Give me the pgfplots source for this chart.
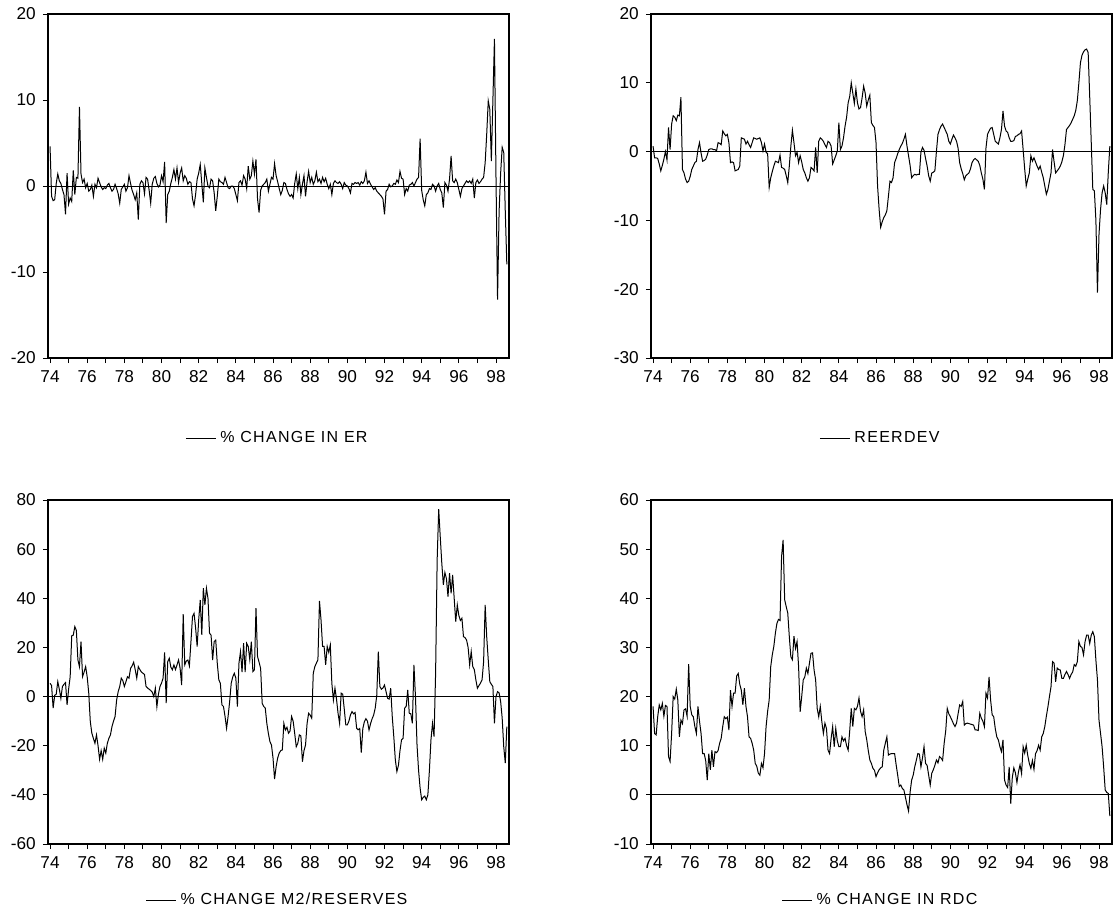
\documentclass[border=0pt]{standalone}
\usepackage{fontspec}
\setmainfont{Liberation Sans}
\usepackage{pgfplots}
\pgfplotsset{compat=1.18}
\usepackage{pgfplotstable}

% monthly data, 1974M1 ... 1998M8 (one row per year)
\pgfplotstableread[row sep=\\]{
v\\
4.6\\ -1.2\\ -1.7\\ -1.6\\ 0.3\\ 1.4\\ 0.6\\ 0.3\\ -0.4\\ -1.0\\ -3.3\\ 1.5\\
-2.1\\ -1.4\\ -1.8\\ 1.8\\ -1.0\\ 1.0\\ 0.9\\ 9.2\\ 1.4\\ 0.4\\ 0.8\\ -0.2\\
0.3\\ -0.6\\ -0.4\\ 0.1\\ -1.2\\ 0.2\\ -0.2\\ 0.9\\ 0.4\\ -0.1\\ -0.4\\ -0.2\\
-0.3\\ 0.1\\ 0.3\\ -0.2\\ -0.6\\ -0.4\\ 0.2\\ -0.3\\ -0.9\\ -2.0\\ -0.4\\ -0.1\\
0.2\\ -0.6\\ -0.2\\ 1.2\\ 0.3\\ -0.5\\ -1.0\\ -1.6\\ -0.8\\ -3.9\\ 0.2\\ 0.6\\
0.4\\ -0.9\\ 1.0\\ 0.8\\ -0.5\\ -2.0\\ 0.2\\ 0.9\\ 1.1\\ 0.3\\ -0.1\\ 0.1\\
1.2\\ 0.5\\ 2.8\\ -4.3\\ -1.0\\ -0.6\\ 0.3\\ 1.0\\ 1.9\\ 0.8\\ 2.1\\ 0.4\\
1.5\\ 2.1\\ 0.6\\ 1.2\\ 0.9\\ 0.2\\ 0.5\\ 0.4\\ -1.5\\ -2.3\\ -1.0\\ 0.8\\
1.5\\ 2.5\\ 0.3\\ -1.9\\ 2.1\\ 1.0\\ 0.0\\ -0.2\\ 0.8\\ 0.6\\ -0.8\\ -2.9\\
-1.2\\ 0.8\\ 0.5\\ 0.4\\ 0.2\\ 1.0\\ 0.4\\ -0.2\\ -0.3\\ 0.0\\ 0.0\\ -0.3\\
-1.0\\ -1.7\\ 0.4\\ 0.6\\ 0.1\\ 1.2\\ 0.8\\ -0.3\\ 2.3\\ 0.8\\ 1.2\\ 2.9\\
1.4\\ 3.1\\ -1.5\\ -3.1\\ -0.5\\ 0.0\\ 0.2\\ 0.4\\ 0.8\\ -0.6\\ 0.2\\ 1.0\\
0.8\\ 2.6\\ 1.2\\ 0.5\\ -0.3\\ -1.0\\ -0.5\\ 0.4\\ 0.3\\ -0.4\\ -0.9\\ -1.2\\
-1.0\\ -1.4\\ 0.3\\ 1.4\\ -0.3\\ 1.0\\ -1.0\\ 0.2\\ 1.2\\ -1.2\\ 0.5\\ 1.7\\
0.4\\ 1.0\\ 0.2\\ 0.6\\ 1.6\\ 0.5\\ 0.8\\ 0.3\\ 1.0\\ 0.5\\ 0.9\\ 0.2\\
-0.3\\ 0.2\\ -1.0\\ 0.3\\ 0.6\\ 0.4\\ 0.3\\ 0.5\\ 0.2\\ -0.3\\ 0.4\\ 0.1\\
0.0\\ -0.3\\ -0.8\\ 0.3\\ 0.2\\ 0.4\\ 0.3\\ 0.4\\ 0.1\\ 0.5\\ 0.3\\ 0.6\\
1.6\\ 0.3\\ 0.6\\ 0.2\\ -0.1\\ -0.4\\ -0.2\\ -0.6\\ -0.8\\ -1.0\\ -1.2\\ -1.5\\
-3.3\\ -0.6\\ -0.4\\ 0.2\\ -0.1\\ 0.0\\ 0.3\\ 0.2\\ 0.7\\ 0.4\\ 1.7\\ 0.9\\
0.8\\ -1.0\\ -0.3\\ -0.6\\ 0.1\\ 0.2\\ 0.4\\ 0.0\\ 0.4\\ 0.8\\ 1.0\\ 5.5\\
-0.5\\ -1.6\\ -2.3\\ -1.0\\ -0.8\\ -0.3\\ -0.4\\ 0.2\\ 0.0\\ -0.6\\ 0.0\\ 0.3\\
-0.4\\ -0.8\\ -2.5\\ 0.4\\ 0.1\\ -0.6\\ 0.8\\ 3.5\\ 0.6\\ 0.4\\ 0.8\\ 0.4\\
-0.4\\ -1.2\\ -0.3\\ 0.0\\ 0.3\\ 0.6\\ 0.4\\ 0.6\\ 0.3\\ 0.8\\ -1.4\\ 0.4\\
0.7\\ 0.3\\ 0.5\\ 0.8\\ 1.0\\ 2.7\\ 6.0\\ 9.9\\ 8.9\\ 2.9\\ 10.0\\ 17.1\\
1.0\\ -13.2\\ -3.0\\ 1.5\\ 4.5\\ 3.9\\ -3.0\\ -9.1\\
}\tER

\pgfplotstableread[row sep=\\]{
v\\
0.8\\ -0.9\\ -0.9\\ -1.0\\ -1.8\\ -2.8\\ -2.0\\ -1.1\\ 0.0\\ -1.2\\ 3.5\\ 0.3\\
4.0\\ 5.2\\ 5.0\\ 4.5\\ 5.3\\ 5.2\\ 7.9\\ -2.6\\ -3.1\\ -4.0\\ -4.5\\ -4.3\\
-3.6\\ -2.6\\ -2.1\\ -1.6\\ -1.4\\ 0.3\\ 1.3\\ -0.2\\ -1.4\\ -1.3\\ -1.1\\ -0.5\\
0.3\\ 0.4\\ 0.4\\ 0.3\\ 0.3\\ 0.1\\ 1.3\\ 1.2\\ 1.0\\ 3.0\\ 2.6\\ 2.3\\
2.5\\ 1.3\\ -1.6\\ -1.5\\ -1.6\\ -2.8\\ -2.7\\ -2.6\\ -2.1\\ 2.0\\ 1.9\\ 1.8\\
1.1\\ 1.5\\ 1.0\\ 0.6\\ 1.3\\ 2.0\\ 1.9\\ 1.8\\ 1.9\\ 2.0\\ 1.3\\ 0.1\\
1.1\\ -0.1\\ -0.3\\ -5.2\\ -3.8\\ -2.9\\ -2.1\\ -1.4\\ -1.5\\ -1.6\\ -0.5\\ -2.3\\
-2.4\\ -2.6\\ -3.5\\ -4.5\\ -2.1\\ 0.8\\ 3.1\\ 1.3\\ -0.6\\ -0.1\\ -1.6\\ -0.6\\
-1.5\\ -2.6\\ -3.1\\ -3.8\\ -4.3\\ -3.8\\ -2.3\\ -2.5\\ -2.8\\ 0.6\\ -3.1\\ 1.5\\
2.0\\ 1.8\\ 1.5\\ 1.0\\ 0.6\\ 1.5\\ 1.3\\ 0.8\\ -1.8\\ -1.2\\ -0.6\\ 0.1\\
4.2\\ 0.3\\ 0.8\\ 2.0\\ 3.7\\ 5.0\\ 7.1\\ 8.0\\ 10.0\\ 8.5\\ 7.0\\ 9.1\\
7.1\\ 6.2\\ 6.4\\ 7.8\\ 9.5\\ 8.5\\ 6.6\\ 7.5\\ 8.2\\ 4.2\\ 3.8\\ 3.5\\
1.3\\ -5.0\\ -8.4\\ -11.0\\ -10.2\\ -9.6\\ -9.2\\ -8.6\\ -6.5\\ -4.3\\ -4.5\\ -3.8\\
-1.6\\ -1.0\\ -0.3\\ 0.3\\ 0.8\\ 1.2\\ 1.8\\ 2.5\\ 0.8\\ -0.6\\ -2.0\\ -3.8\\
-3.5\\ -3.3\\ -3.4\\ -3.3\\ -3.3\\ -0.1\\ 0.6\\ 0.2\\ -1.0\\ -2.1\\ -3.5\\ -4.3\\
-3.1\\ -3.0\\ -2.8\\ 0.0\\ 2.5\\ 3.2\\ 3.7\\ 4.0\\ 3.5\\ 3.0\\ 2.5\\ 1.5\\
1.1\\ 1.8\\ 2.4\\ 2.0\\ 1.5\\ 0.5\\ -1.6\\ -2.5\\ -3.2\\ -4.1\\ -3.5\\ -3.3\\
-3.1\\ -2.5\\ -1.6\\ -1.2\\ -1.0\\ -1.2\\ -1.4\\ -2.0\\ -3.1\\ -4.0\\ -5.5\\ 0.5\\
2.5\\ 3.0\\ 3.4\\ 3.5\\ 2.5\\ 1.5\\ 1.3\\ 1.1\\ 2.0\\ 3.2\\ 5.9\\ 3.7\\
3.0\\ 2.8\\ 2.0\\ 1.5\\ 1.5\\ 1.6\\ 2.2\\ 2.3\\ 2.5\\ 2.6\\ 3.0\\ 0.3\\
-2.5\\ -5.0\\ -4.0\\ -3.1\\ -0.6\\ -1.4\\ -0.9\\ -1.5\\ -2.1\\ -2.6\\ -2.1\\ -3.0\\
-3.8\\ -5.0\\ -6.2\\ -5.5\\ -4.3\\ -3.1\\ 0.3\\ -1.5\\ -3.1\\ -2.8\\ -2.5\\ -2.1\\
-1.5\\ -0.6\\ 1.0\\ 3.2\\ 3.5\\ 3.8\\ 4.2\\ 4.7\\ 5.2\\ 6.0\\ 7.4\\ 10.0\\
12.9\\ 14.0\\ 14.5\\ 14.8\\ 14.9\\ 14.4\\ 8.0\\ 1.3\\ -5.5\\ -5.7\\ -10.0\\ -20.5\\
-12.0\\ -8.4\\ -6.0\\ -5.0\\ -6.0\\ -7.7\\ -3.0\\ 0.8\\
}\tREER

\pgfplotstableread[row sep=\\]{
v\\
5.4\\ 4.5\\ -4.7\\ 0.5\\ 1.0\\ 6.1\\ 3.0\\ -0.7\\ 4.1\\ 5.0\\ 5.7\\ -3.4\\
3.0\\ 8.1\\ 24.7\\ 25.0\\ 28.5\\ 26.9\\ 14.9\\ 12.2\\ 22.4\\ 8.1\\ 10.0\\ 12.2\\
8.0\\ 1.4\\ -10.2\\ -14.9\\ -17.0\\ -19.0\\ -15.6\\ -20.0\\ -25.5\\ -22.0\\ -25.5\\ -21.0\\
-23.0\\ -19.0\\ -17.0\\ -15.6\\ -12.2\\ -10.0\\ -8.1\\ -1.4\\ 2.0\\ 4.1\\ 7.5\\ 6.5\\
4.1\\ 6.0\\ 8.1\\ 7.5\\ 11.5\\ 12.5\\ 14.0\\ 11.0\\ 7.5\\ 12.2\\ 11.0\\ 10.0\\
9.5\\ 9.0\\ 4.1\\ 3.5\\ 3.0\\ 2.5\\ 1.8\\ 0.0\\ 3.4\\ -4.1\\ 1.0\\ 4.1\\
5.5\\ 7.5\\ 18.0\\ -2.7\\ 14.2\\ 15.6\\ 12.0\\ 10.9\\ 12.9\\ 11.0\\ 12.9\\ 14.9\\
11.5\\ 4.7\\ 33.6\\ 12.9\\ 14.5\\ 14.9\\ 12.5\\ 22.4\\ 32.6\\ 33.9\\ 28.0\\ 20.4\\
31.2\\ 39.3\\ 25.1\\ 44.1\\ 37.3\\ 44.1\\ 40.0\\ 25.8\\ 25.0\\ 14.9\\ 22.4\\ 23.0\\
13.6\\ 6.8\\ 5.4\\ -3.4\\ -4.0\\ -8.0\\ -12.9\\ -8.0\\ -2.0\\ 5.4\\ 8.0\\ 9.5\\
7.5\\ -4.1\\ 13.6\\ 18.3\\ 10.0\\ 21.7\\ 10.0\\ 21.7\\ 20.4\\ 15.0\\ 22.4\\ 10.2\\
10.9\\ 36.0\\ 16.3\\ 14.0\\ 11.5\\ -2.7\\ -4.0\\ -4.7\\ -10.9\\ -15.0\\ -18.3\\ -19.7\\
-25.0\\ -33.6\\ -28.5\\ -25.0\\ -23.0\\ -22.0\\ -21.7\\ -10.9\\ -13.6\\ -12.5\\ -14.9\\ -14.0\\
-8.1\\ -10.0\\ -15.0\\ -20.4\\ -19.0\\ -15.6\\ -16.0\\ -26.5\\ -22.0\\ -19.7\\ -10.9\\ -6.8\\
-7.5\\ -8.8\\ 9.5\\ 12.2\\ 13.6\\ 15.0\\ 38.9\\ 31.2\\ 20.4\\ 20.4\\ 12.9\\ 20.4\\
18.0\\ 21.0\\ 5.4\\ -1.4\\ 3.4\\ -1.0\\ -6.8\\ -10.9\\ 1.4\\ 1.0\\ -5.0\\ -11.5\\
-11.5\\ -10.0\\ -7.5\\ -6.1\\ -7.0\\ -6.5\\ -12.9\\ -13.5\\ -13.0\\ -22.8\\ -13.0\\ -10.2\\
-9.0\\ -10.0\\ -13.6\\ -11.0\\ -9.0\\ -7.5\\ -4.7\\ 0.5\\ 18.3\\ 4.1\\ 3.0\\ 3.5\\
4.7\\ 2.0\\ -0.7\\ -1.0\\ 3.4\\ -8.1\\ -16.3\\ -25.8\\ -30.5\\ -28.0\\ -22.0\\ -17.6\\
-17.0\\ -4.7\\ -4.0\\ 2.7\\ -6.8\\ -7.0\\ -10.9\\ 12.9\\ 0.0\\ -19.7\\ -30.0\\ -37.3\\
-42.0\\ -41.0\\ -40.5\\ -42.0\\ -40.0\\ -30.0\\ -17.6\\ -10.9\\ -16.3\\ 9.5\\ 55.6\\ 76.3\\
65.0\\ 54.3\\ 45.5\\ 50.5\\ 48.0\\ 40.7\\ 50.2\\ 42.0\\ 49.5\\ 40.0\\ 30.5\\ 37.3\\
33.0\\ 31.0\\ 31.9\\ 24.4\\ 24.0\\ 23.0\\ 20.0\\ 12.9\\ 18.3\\ 12.2\\ 11.0\\ 6.8\\
3.4\\ 4.5\\ 5.5\\ 6.8\\ 14.2\\ 37.3\\ 24.4\\ 14.9\\ 6.1\\ 5.0\\ 4.1\\ -10.9\\
0.0\\ 2.0\\ 1.5\\ -2.0\\ -8.8\\ -20.4\\ -27.1\\ -12.2\\
}\tMII

\pgfplotstableread[row sep=\\]{
v\\
18.0\\ 12.5\\ 12.2\\ 15.9\\ 18.3\\ 17.3\\ 18.6\\ 16.0\\ 18.2\\ 18.0\\ 7.8\\ 6.8\\
12.5\\ 20.0\\ 19.5\\ 21.5\\ 19.3\\ 11.8\\ 15.2\\ 14.5\\ 17.3\\ 17.5\\ 16.0\\ 26.6\\
18.0\\ 16.3\\ 15.9\\ 13.9\\ 12.5\\ 18.0\\ 15.0\\ 12.5\\ 8.4\\ 8.4\\ 7.0\\ 3.0\\
8.4\\ 5.1\\ 9.1\\ 5.7\\ 8.8\\ 8.6\\ 9.0\\ 10.5\\ 11.5\\ 13.9\\ 15.9\\ 15.5\\
15.8\\ 13.2\\ 21.3\\ 18.0\\ 20.7\\ 20.7\\ 24.2\\ 24.7\\ 22.5\\ 21.3\\ 18.3\\ 21.7\\
18.0\\ 15.9\\ 11.8\\ 11.5\\ 10.5\\ 9.1\\ 6.4\\ 5.8\\ 4.4\\ 4.0\\ 6.4\\ 5.5\\
8.4\\ 13.9\\ 17.0\\ 19.3\\ 26.1\\ 28.5\\ 30.2\\ 32.9\\ 34.9\\ 35.7\\ 35.5\\ 48.5\\
51.9\\ 39.7\\ 38.3\\ 37.0\\ 32.2\\ 28.1\\ 27.5\\ 32.3\\ 29.8\\ 31.2\\ 26.1\\ 16.9\\
20.0\\ 23.4\\ 24.0\\ 25.8\\ 24.7\\ 26.8\\ 28.8\\ 28.9\\ 25.4\\ 23.4\\ 17.6\\ 15.9\\
18.0\\ 14.9\\ 12.5\\ 14.6\\ 13.5\\ 9.1\\ 8.4\\ 11.5\\ 13.9\\ 9.8\\ 13.5\\ 11.0\\
9.8\\ 9.8\\ 11.8\\ 11.0\\ 11.5\\ 10.0\\ 9.1\\ 13.0\\ 17.6\\ 13.9\\ 17.6\\ 17.3\\
18.0\\ 19.7\\ 17.0\\ 15.9\\ 17.3\\ 12.9\\ 11.2\\ 9.0\\ 7.1\\ 6.4\\ 5.4\\ 5.0\\
3.7\\ 4.5\\ 5.1\\ 5.5\\ 5.7\\ 9.1\\ 10.5\\ 11.8\\ 8.1\\ 8.3\\ 8.4\\ 8.4\\
8.4\\ 6.1\\ 4.0\\ 1.7\\ 2.0\\ 1.3\\ 1.0\\ -0.5\\ -2.0\\ -3.3\\ 0.5\\ 3.0\\
4.0\\ 5.7\\ 7.0\\ 8.4\\ 8.3\\ 5.7\\ 7.5\\ 9.8\\ 6.4\\ 6.0\\ 4.0\\ 2.0\\
4.4\\ 5.1\\ 6.0\\ 7.1\\ 6.5\\ 7.8\\ 7.5\\ 7.0\\ 10.5\\ 13.0\\ 17.6\\ 16.5\\
15.9\\ 15.2\\ 14.5\\ 13.9\\ 14.6\\ 16.5\\ 18.3\\ 18.0\\ 19.0\\ 14.2\\ 14.5\\ 14.6\\
14.5\\ 14.4\\ 14.3\\ 14.2\\ 13.2\\ 13.2\\ 13.1\\ 16.6\\ 15.6\\ 15.0\\ 13.9\\ 20.7\\
19.7\\ 24.0\\ 19.3\\ 16.3\\ 15.9\\ 13.5\\ 11.8\\ 11.2\\ 9.8\\ 8.8\\ 11.2\\ 3.0\\
2.0\\ 1.5\\ 5.7\\ -1.8\\ 3.5\\ 5.5\\ 4.5\\ 2.5\\ 4.7\\ 6.1\\ 4.3\\ 9.8\\
8.5\\ 10.1\\ 8.0\\ 6.4\\ 5.4\\ 7.0\\ 5.2\\ 8.4\\ 9.0\\ 10.1\\ 9.1\\ 11.8\\
12.5\\ 13.9\\ 16.0\\ 17.9\\ 20.0\\ 22.0\\ 27.1\\ 26.8\\ 23.0\\ 25.8\\ 25.5\\ 25.4\\
23.7\\ 23.7\\ 24.5\\ 25.1\\ 24.5\\ 23.7\\ 24.5\\ 25.0\\ 26.5\\ 26.2\\ 27.1\\ 31.2\\
30.2\\ 30.0\\ 28.5\\ 31.2\\ 32.5\\ 32.5\\ 30.8\\ 32.5\\ 33.2\\ 32.2\\ 27.4\\ 23.4\\
15.2\\ 12.5\\ 9.8\\ 5.7\\ 1.0\\ 0.5\\ 0.3\\ -4.3\\
}\tRDC

\pgfplotsset{
  eviews/.style={
    scale only axis, width=230.5pt, height=172pt,
    anchor=south west,
    xmin=1973.89, xmax=1998.7,
    xtick={1974,1976,...,1998},
    xticklabels={74,76,78,80,82,84,86,88,90,92,94,96,98},
    minor xtick={1975,1977,...,1997},
    tick pos=left, tick align=outside,
    major tick length=2.6pt, minor tick length=2.6pt,
    major tick style={black, line width=0.5pt},
    minor tick style={black, line width=0.5pt},
    axis line style={black, line width=0.8pt},
    tick label style={font=\fontsize{8.6}{10}\selectfont},
    legend style={anchor=center, draw=none, fill=none,
      font=\fontsize{8}{9.5}\selectfont\addfontfeature{LetterSpace=8}},
    legend cell align=left,
    legend image code/.code={\draw[black, line width=0.5pt] (0pt,0pt) -- (15pt,0pt);},
  },
  series/.style={black, line width=0.5pt, mark=none, sharp plot},
  zeroline/.style={black, line width=0.4pt, mark=none, forget plot},
}

\begin{document}
\begin{tikzpicture}
\useasboundingbox (0pt,0pt) rectangle (558.5pt,461.5pt);

% top left
\begin{axis}[eviews, at={(24pt,282.5pt)}, legend style={at={(0.5,-0.233)}},
  ymin=-20, ymax=20, ytick={-20,-10,0,10,20}, yticklabels={-20,-10,0,10,20}]
  \addplot[zeroline] coordinates {(1973.89,0) (1998.7,0)};
  \addplot[series] table[x expr=1974+\coordindex/12, y=v] {\tER};
  \addlegendentry{\% CHANGE IN ER}
\end{axis}

% top right
\begin{axis}[eviews, at={(325.5pt,282.5pt)}, legend style={at={(0.5,-0.233)}},
  ymin=-30, ymax=20, ytick={-30,-20,-10,0,10,20}, yticklabels={-30,-20,-10,0,10,20}]
  \addplot[zeroline] coordinates {(1973.89,0) (1998.7,0)};
  \addplot[series] table[x expr=1974+\coordindex/12, y=v] {\tREER};
  \addlegendentry{REERDEV}
\end{axis}

% bottom left
\begin{axis}[eviews, at={(24pt,39.5pt)}, legend style={at={(0.5,-0.163)}},
  ymin=-60, ymax=80, ytick={-60,-40,-20,0,20,40,60,80}, yticklabels={-60,-40,-20,0,20,40,60,80}]
  \addplot[zeroline] coordinates {(1973.89,0) (1998.7,0)};
  \addplot[series] table[x expr=1974+\coordindex/12, y=v] {\tMII};
  \addlegendentry{\% CHANGE M2/RESERVES}
\end{axis}

% bottom right
\begin{axis}[eviews, at={(325.5pt,39.5pt)}, legend style={at={(0.5,-0.163)}},
  ymin=-10, ymax=60, ytick={-10,0,10,20,30,40,50,60}, yticklabels={-10,0,10,20,30,40,50,60}]
  \addplot[zeroline] coordinates {(1973.89,0) (1998.7,0)};
  \addplot[series] table[x expr=1974+\coordindex/12, y=v] {\tRDC};
  \addlegendentry{\% CHANGE IN RDC}
\end{axis}
\end{tikzpicture}
\end{document}
